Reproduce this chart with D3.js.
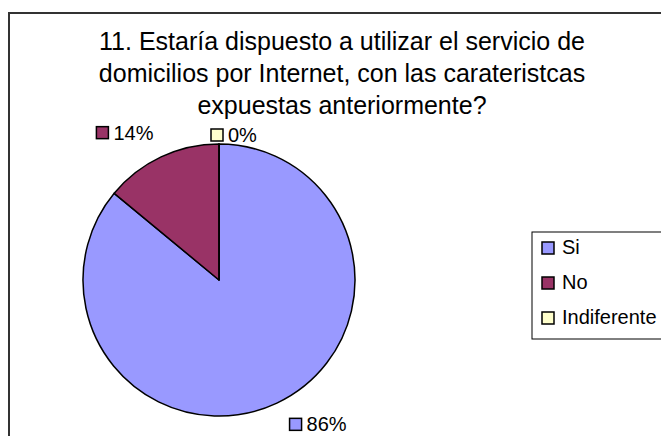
<!DOCTYPE html>
<html>
<head>
<meta charset="utf-8">
<script src="https://cdn.jsdelivr.net/npm/d3@7"></script>
<style>
  html, body { margin: 0; padding: 0; background: #fff; }
  svg { display: block; font-family: "Liberation Sans", Arial, sans-serif; }
</style>
</head>
<body>
<svg id="chart" width="661" height="436"></svg>
<script>
// Survey answers for question 11
const categories = ["Si", "No", "Indiferente"];
const percents = [86, 14, 0];
const colors = ["#9999FF", "#993366", "#FFFFCC"];
const titleLines = [
  "11. Estaría dispuesto a utilizar el servicio de",
  "domicilios por Internet, con las carateristcas",
  "expuestas anteriormente?"
];

const svg = d3.select("#chart");
const W = 661, H = 436;

// Chart frame
svg.append("rect")
  .attr("x", 9).attr("y", 13)
  .attr("width", W + 10).attr("height", H + 10)
  .attr("fill", "#fff")
  .attr("stroke", "#333").attr("stroke-width", 2);

// Title
svg.append("g").selectAll("text")
  .data(titleLines)
  .join("text")
  .attr("x", 342)
  .attr("y", (d, i) => 49.5 + i * 32)
  .attr("text-anchor", "middle")
  .attr("font-size", 25)
  .attr("fill", "#000")
  .text(d => d);

// Pie
const cx = 219, cy = 280, r = 136;
const pie = d3.pie().sort(null).value(d => d)(percents);
const arc = d3.arc().innerRadius(0).outerRadius(r);

const g = svg.append("g").attr("transform", `translate(${cx},${cy})`);
g.selectAll("path")
  .data(pie)
  .join("path")
  .attr("d", arc)
  .attr("fill", (d, i) => colors[i])
  .attr("stroke", "#000")
  .attr("stroke-width", 1.5)
  .attr("stroke-linejoin", "round");

// Data labels: small colour key plus percentage, placed outside the rim
const labelFont = 20, keySize = 12;
const labels = g.append("g");
pie.forEach((d, i) => {
  const a = (d.startAngle + d.endAngle) / 2;
  const s = Math.sin(a), c = -Math.cos(a);
  const text = percents[i] + "%";
  const lg = labels.append("g");
  const t = lg.append("text")
    .attr("font-size", labelFont)
    .attr("fill", "#000")
    .text(text);
  const tw = t.node().getComputedTextLength();
  const w = keySize + 5 + tw, h = 15;
  let left, top;
  if (Math.abs(s) < 0.05) {
    const ax = s * (r + 1), ay = c * (r + 1);
    left = ax - 8;
    top = c < 0 ? ay - h : ay;
  } else {
    const ax = s * (r + 18), ay = c * (r + 18);
    left = s > 0 ? ax + 5 : ax - w;
    top = c < 0 ? ay - h : ay - 2;
  }
  lg.insert("rect", "text")
    .attr("x", left).attr("y", top + 1)
    .attr("width", keySize).attr("height", keySize)
    .attr("fill", colors[i])
    .attr("stroke", "#000").attr("stroke-width", 1.5);
  t.attr("x", left + keySize + 5).attr("y", top + h - 1);
});

// Legend
const legend = svg.append("g");
legend.append("rect")
  .attr("x", 532).attr("y", 232)
  .attr("width", 200).attr("height", 107)
  .attr("fill", "#fff")
  .attr("stroke", "#000").attr("stroke-width", 1);
const items = legend.selectAll("g.item")
  .data(categories)
  .join("g")
  .attr("class", "item")
  .attr("transform", (d, i) => `translate(0, ${i * 35})`);
items.append("rect")
  .attr("x", 542).attr("y", 242)
  .attr("width", keySize).attr("height", keySize)
  .attr("fill", (d, i) => colors[i])
  .attr("stroke", "#000").attr("stroke-width", 1.5);
items.append("text")
  .attr("x", 562).attr("y", 254)
  .attr("font-size", 20)
  .attr("fill", "#000")
  .text(d => d);
</script>
</body>
</html>
